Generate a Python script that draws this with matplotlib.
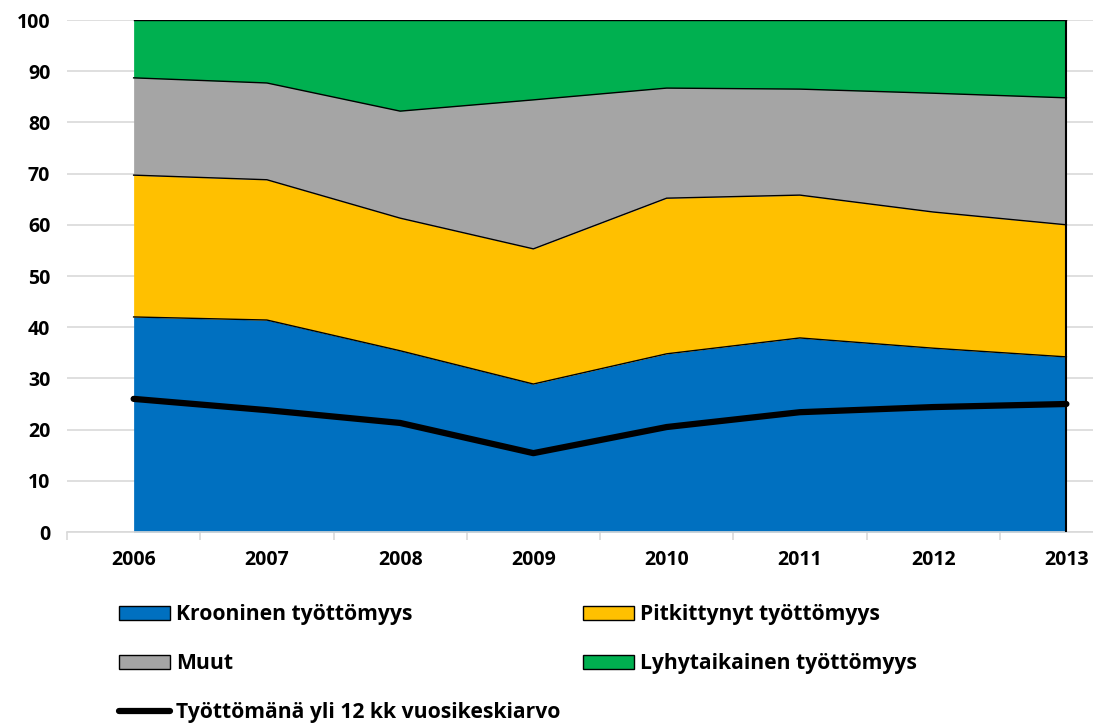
import numpy as np
import matplotlib.pyplot as plt
from matplotlib.patches import Patch
from matplotlib.lines import Line2D

plt.rcParams["font.family"] = ["Open Sans", "DejaVu Sans"]
plt.rcParams["font.weight"] = "bold"

years = ["2006", "2007", "2008", "2009", "2010", "2011", "2012", "2013"]
krooninen = [42.0, 41.4, 35.4, 28.9, 34.8, 37.9, 35.9, 34.2]
pitkittynyt = [27.7, 27.4, 25.9, 26.4, 30.4, 27.9, 26.6, 25.8]
muut = [19.0, 18.9, 20.9, 29.1, 21.5, 20.7, 23.2, 24.8]
lyhytaikainen = [11.3, 12.3, 17.8, 15.6, 13.3, 13.5, 14.3, 15.2]
yli_12kk = [26.0, 23.8, 21.3, 15.4, 20.5, 23.4, 24.4, 25.0]

labels = ["Krooninen työttömyys", "Pitkittynyt työttömyys", "Muut",
          "Lyhytaikainen työttömyys"]
colors = ["#0070C0", "#FFC000", "#A5A5A5", "#00B050"]
line_label = "Työttömänä yli 12 kk vuosikeskiarvo"

W, H = 1093, 724
fig = plt.figure(figsize=(W / 100, H / 100), dpi=100)
ax = fig.add_axes([67 / W, 1 - 532 / H, 1066 / W, 512 / H])

x = np.arange(len(years))
series = np.array([krooninen, pitkittynyt, muut, lyhytaikainen])
tops = np.cumsum(series, axis=0)
bottom = np.zeros(len(years))
for top, c in zip(tops, colors):
    ax.fill_between(x, bottom, top, color=c, linewidth=0, zorder=2)
    ax.plot(x, top, color="black", lw=1, zorder=3)
    bottom = top
ax.plot([x[-1], x[-1]], [0, tops[-1][-1]], color="black", lw=1.5, zorder=3)

ax.plot(x, yli_12kk, color="black", lw=4.5, solid_capstyle="round", zorder=4)

ax.set_xlim(-0.5, len(years) - 0.5)
ax.set_ylim(0, 100)
ax.set_yticks(np.arange(0, 101, 10))
ax.yaxis.grid(True, color="#D9D9D9", lw=1.2, zorder=0)
ax.set_axisbelow(True)
for s in ["top", "right", "left"]:
    ax.spines[s].set_visible(False)
ax.spines["bottom"].set_color("#D9D9D9")
ax.spines["bottom"].set_linewidth(1.2)
ax.tick_params(axis="y", length=0, pad=12, labelsize=14)
ax.set_xticks(x)
ax.set_xticklabels(years)
ax.tick_params(axis="x", length=0, pad=13, labelsize=14)
ax.set_xticks(np.arange(-0.5, len(years), 1), minor=True)
ax.tick_params(axis="x", which="minor", length=6, color="#D9D9D9", width=1.2)
for t in ax.get_xticklabels() + ax.get_yticklabels():
    t.set_fontweight("bold")

h = [Patch(facecolor=c, edgecolor="black", lw=1) for c in colors]
hl = Line2D([], [], color="black", lw=4.5, solid_capstyle="round")
leg_kw = dict(frameon=False, loc="upper left", handlelength=2.4,
              handleheight=0.65, handletextpad=0.3, labelspacing=1.33,
              prop={"size": 15.2, "weight": "bold"}, borderaxespad=0,
              borderpad=0)
fig.legend([h[0], h[2], hl], [labels[0], labels[2], line_label],
           bbox_to_anchor=(119 / W, 1 - 604 / H), **leg_kw)
fig.legend([h[1], h[3]], [labels[1], labels[3]],
           bbox_to_anchor=(583 / W, 1 - 604 / H), **leg_kw)

fig.savefig("out.png", dpi=100)
